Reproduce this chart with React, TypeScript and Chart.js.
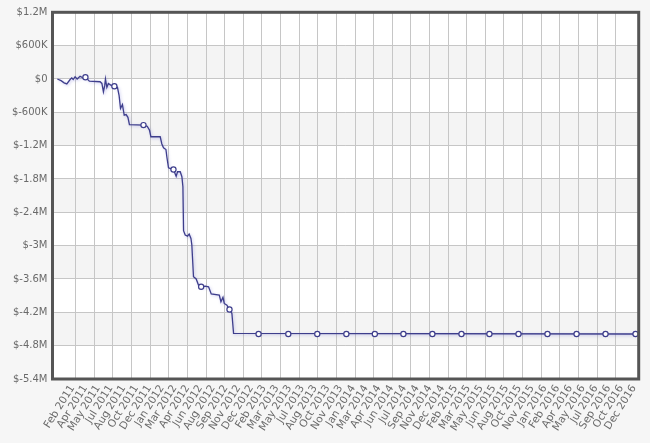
import React, { useEffect, useRef } from 'react';
import { Chart, registerables } from 'chart.js';

Chart.register(...registerables);

// X tick labels (one per tick step on the x axis)
const tickLabels = [
  'Feb 2011', 'Apr 2011', 'May 2011', 'Jul 2011', 'Aug 2011', 'Oct 2011', 'Dec 2011',
  'Jan 2012', 'Mar 2012', 'Apr 2012', 'Jun 2012', 'Aug 2012', 'Sep 2012', 'Nov 2012', 'Dec 2012',
  'Feb 2013', 'Mar 2013', 'May 2013', 'Jul 2013', 'Aug 2013', 'Oct 2013', 'Nov 2013',
  'Jan 2014', 'Mar 2014', 'Apr 2014', 'Jun 2014', 'Jul 2014', 'Sep 2014', 'Nov 2014', 'Dec 2014',
  'Feb 2015', 'Mar 2015', 'May 2015', 'Jun 2015', 'Aug 2015', 'Oct 2015', 'Nov 2015',
  'Jan 2016', 'Feb 2016', 'Apr 2016', 'May 2016', 'Jul 2016', 'Sep 2016', 'Oct 2016', 'Dec 2016',
];

// Y tick labels, top to bottom ($M: 1.2 .. -5.4 in 0.6 steps)
const yTickLabels = [
  '$1.2M', '$600K', '$0', '$-600K', '$-1.2M', '$-1.8M',
  '$-2.4M', '$-3M', '$-3.6M', '$-4.2M', '$-4.8M', '$-5.4M',
];
const yMax = 1.2;
const yStep = 0.6;

// Cumulative value line: x in tick-label steps (0 = Feb 2011), y in $M
const lineX = [
  -1.52, -1.23, -0.99, -0.78, -0.52, -0.39, -0.28, -0.13, 0.03, 0.26, 0.48, 0.68, 0.99,
  1.83, 1.97, 2.09, 2.19, 2.25, 2.36, 2.48, 2.66, 2.95, 3.19, 3.32, 3.43, 3.58,
  3.72, 3.87, 4.01, 4.13, 5.23, 5.52, 5.7, 5.81, 6.54, 6.67, 6.8, 6.99, 7.06,
  7.19, 7.58, 7.79, 7.9, 8.11, 8.24, 8.32, 8.37, 8.5, 8.68, 8.81, 8.95, 9.02,
  9.15, 9.36, 9.54, 9.75, 10.07, 10.33, 10.54, 11.17, 11.3, 11.46, 11.56,
  11.77, 11.97, 12.16, 12.29, 43.79,
];
const lineY = [
  0.0, -0.03, -0.07, -0.09, -0.01, 0.02, -0.01, 0.04, 0.0, 0.05, 0.02, 0.03, -0.04,
  -0.05, -0.08, -0.23, -0.12, 0.0, -0.15, -0.08, -0.11, -0.13, -0.15, -0.3, -0.53, -0.46,
  -0.65, -0.64, -0.69, -0.82, -0.83, -0.85, -0.92, -1.04, -1.04, -1.17, -1.24, -1.27, -1.4,
  -1.6, -1.63, -1.75, -1.67, -1.67, -1.76, -1.94, -2.73, -2.81, -2.83, -2.79, -2.87, -2.99,
  -3.56, -3.6, -3.71, -3.74, -3.73, -3.74, -3.87, -3.89, -4.01, -3.93, -4.04,
  -4.07, -4.15, -4.22, -4.58, -4.59,
];

// Hollow circle markers on the line
const markerX = [
  0.68, 2.95, 5.23, 7.58, 9.75, 11.97, 14.25, 16.58, 18.85, 21.13,
  23.36, 25.6, 27.87, 30.15, 32.34, 34.62, 36.89, 39.17, 41.44, 43.79,
];
const markerY = [
  0.03, -0.13, -0.83, -1.63, -3.74, -4.15, -4.59, -4.59, -4.59, -4.59,
  -4.59, -4.59, -4.59, -4.59, -4.59, -4.59, -4.59, -4.59, -4.59, -4.59,
];

const GRID_LINES = 30;
const TEXT = '#6a6a6a';
const GRID = '#c6c6c6';
const LINE = '#3e3e8c';

const framePlugin = {
  id: 'frame',
  beforeDraw(chart: any) {
    const { ctx, chartArea: a, scales } = chart;
    const y = scales.y;
    ctx.save();
    ctx.fillStyle = '#f6f6f6';
    ctx.fillRect(0, 0, chart.width, chart.height);
    ctx.fillStyle = '#ffffff';
    ctx.fillRect(a.left, a.top, a.right - a.left, a.bottom - a.top);
    ctx.fillStyle = '#f4f4f4';
    for (let i = 1; i < yTickLabels.length - 1; i += 2) {
      const t = y.getPixelForValue(yMax - i * yStep);
      const b = y.getPixelForValue(yMax - (i + 1) * yStep);
      ctx.fillRect(a.left, t, a.right - a.left, b - t);
    }
    ctx.restore();
  },
  beforeDatasetDraw(chart: any, args: any) {
    if (chart.data.datasets[args.index].label === 'line') {
      const ctx = chart.ctx;
      ctx.save();
      ctx.shadowColor = 'rgba(90, 90, 210, 0.35)';
      ctx.shadowBlur = 3;
      ctx.shadowOffsetX = 1;
      ctx.shadowOffsetY = 1;
    }
  },
  afterDatasetDraw(chart: any, args: any) {
    if (chart.data.datasets[args.index].label === 'line') {
      chart.ctx.restore();
    }
  },
  afterDraw(chart: any) {
    const { ctx, chartArea: a } = chart;
    ctx.save();
    ctx.strokeStyle = '#555555';
    ctx.lineWidth = 3;
    ctx.strokeRect(a.left, a.top, a.right - a.left, a.bottom - a.top);
    ctx.restore();
  },
};

export default function App() {
  const ref = useRef<HTMLCanvasElement | null>(null);

  useEffect(() => {
    if (!ref.current) return;
    const chart = new Chart(ref.current, {
      type: 'line',
      data: {
        datasets: [
          {
            label: 'markers',
            data: markerX.map((x, i) => ({ x, y: markerY[i] })),
            showLine: false,
            pointRadius: 2.6,
            pointBorderWidth: 1.2,
            pointBackgroundColor: '#ffffff',
            pointBorderColor: LINE,
            order: 0,
          },
          {
            label: 'line',
            data: lineX.map((x, i) => ({ x, y: lineY[i] })),
            borderColor: LINE,
            borderWidth: 1.3,
            pointRadius: 0,
            tension: 0,
            fill: false,
            order: 1,
          },
        ],
      },
      options: {
        responsive: false,
        animation: false,
        layout: { padding: { top: 12.3, right: 11.3, left: 0, bottom: 0 } },
        plugins: { legend: { display: false }, tooltip: { enabled: false } },
        scales: {
          x: {
            type: 'linear',
            position: 'bottom',
            min: -1.9,
            max: 44.04,
            grid: { display: false, drawTicks: false },
            border: { display: false },
            ticks: {
              autoSkip: false,
              minRotation: 58,
              maxRotation: 58,
              padding: 3.7,
              labelOffset: -4.2,
              font: { family: 'DejaVu Sans', size: 10.5 },
              color: TEXT,
              callback: (v: any) => tickLabels[v] ?? '',
            },
            afterBuildTicks: (s: any) => {
              s.ticks = tickLabels.map((_, i) => ({ value: i }));
            },
            afterFit: (s: any) => {
              s.height = 64;
              s.paddingLeft = 0;
              s.paddingRight = 0;
            },
          },
          xg: {
            type: 'linear',
            axis: 'x',
            position: 'bottom',
            min: -1.246,
            max: 30.235,
            grid: { color: GRID, drawTicks: false },
            border: { display: false },
            ticks: { display: false },
            afterBuildTicks: (s: any) => {
              s.ticks = Array.from({ length: GRID_LINES }, (_, i) => ({ value: i }));
            },
            afterFit: (s: any) => {
              s.height = 0;
              s.paddingLeft = 0;
              s.paddingRight = 0;
            },
          },
          y: {
            type: 'linear',
            min: yMax - yStep * (yTickLabels.length - 1),
            max: yMax,
            grid: { color: GRID, drawTicks: false },
            border: { display: false },
            ticks: {
              padding: 5,
              font: { family: 'DejaVu Sans', size: 10 },
              color: TEXT,
              callback: (v: any) => yTickLabels[Math.round((yMax - v) / yStep)] ?? '',
            },
            afterBuildTicks: (s: any) => {
              s.ticks = yTickLabels.map((_, i) => ({ value: yMax - i * yStep }));
            },
            afterFit: (s: any) => {
              s.width = 52.5;
            },
          },
        },
      },
      plugins: [framePlugin],
    } as any);
    return () => chart.destroy();
  }, []);

  return (
    <div style={{ position: 'fixed', left: 0, top: 0, width: 650, height: 443 }}>
      <canvas ref={ref} width={650} height={443} />
    </div>
  );
}
